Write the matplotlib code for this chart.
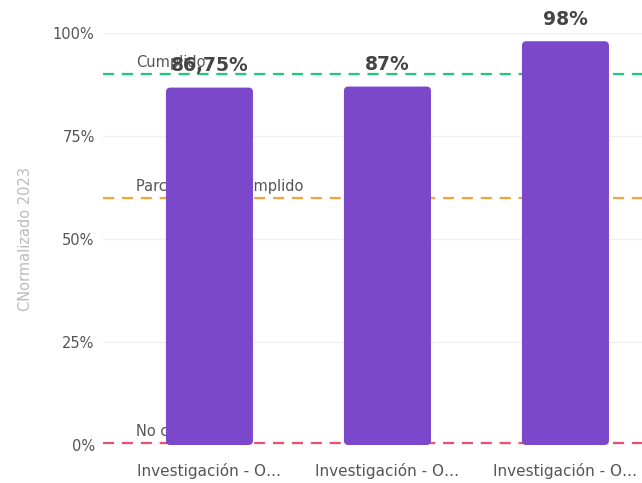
import matplotlib
matplotlib.use("Agg")
import matplotlib.pyplot as plt
from matplotlib.patches import FancyBboxPatch

categories = ["Investigación - O…", "Investigación - O…", "Investigación - O…"]
values = [86.75, 87, 98]
value_labels = ["86,75%", "87%", "98%"]
ref_names = ["Cumplido", "Parcialmente cumplido", "No cumplido"]
ref_values = [90, 60, 0.5]
ref_colors = ["#1fc97c", "#f7a23b", "#ef4f6e"]
yticks = [0, 25, 50, 75, 100]
ytick_labels = ["0%", "25%", "50%", "75%", "100%"]

plt.rcParams['font.family'] = ['DejaVu Sans']

fig = plt.figure(figsize=(6.42, 4.83), dpi=100)
ax = fig.add_axes([103/642, 1-445/483, 1-103/642, (445-33)/483])

x = list(range(len(categories)))
ax.set_xlim(-0.598, 2.43)
ax.set_ylim(0, 100)

for v in yticks:
    ax.axhline(v, color="#f0f0f0", lw=1, zorder=0)

for name, v, c in zip(ref_names, ref_values, ref_colors):
    ax.axhline(v, color=c, lw=1.6, dashes=(5, 3.5), zorder=1)
    ax.annotate(name, xy=(-0.41, v), xytext=(0, 3), textcoords="offset points",
                ha="left", va="bottom", fontsize=10.5, color="#555555", zorder=2)

bars = ax.bar(x, values, width=0.489, color="#7b48cc", zorder=3)
# rounded corners
aspect = (178 / 4.12)
for r in bars:
    r.set_visible(False)
    fb = FancyBboxPatch((r.get_x(), r.get_y()), r.get_width(), r.get_height(),
                        boxstyle="round,pad=0,rounding_size=0.025",
                        mutation_aspect=aspect, facecolor="#7b48cc",
                        edgecolor="none", zorder=3)
    ax.add_patch(fb)

for xi, v, lab in zip(x, values, value_labels):
    ax.annotate(lab, xy=(xi, v), xytext=(0, 16), textcoords="offset points",
                ha="center", va="center", fontsize=13.5, fontweight="bold",
                color="#444444", zorder=5, annotation_clip=False)

ax.set_yticks(yticks)
ax.set_yticklabels(ytick_labels)
ax.set_xticks(x)
ax.set_xticklabels(categories)
ax.tick_params(axis="y", length=0, pad=6, labelsize=10.5, labelcolor="#555555")
ax.tick_params(axis="x", length=0, pad=13, labelsize=11, labelcolor="#555555")
for s in ax.spines.values():
    s.set_visible(False)
ax.set_ylabel("CNormalizado 2023", color="#bbbbbb", fontsize=10.5, labelpad=14)

fig.savefig("out.png", dpi=100)
